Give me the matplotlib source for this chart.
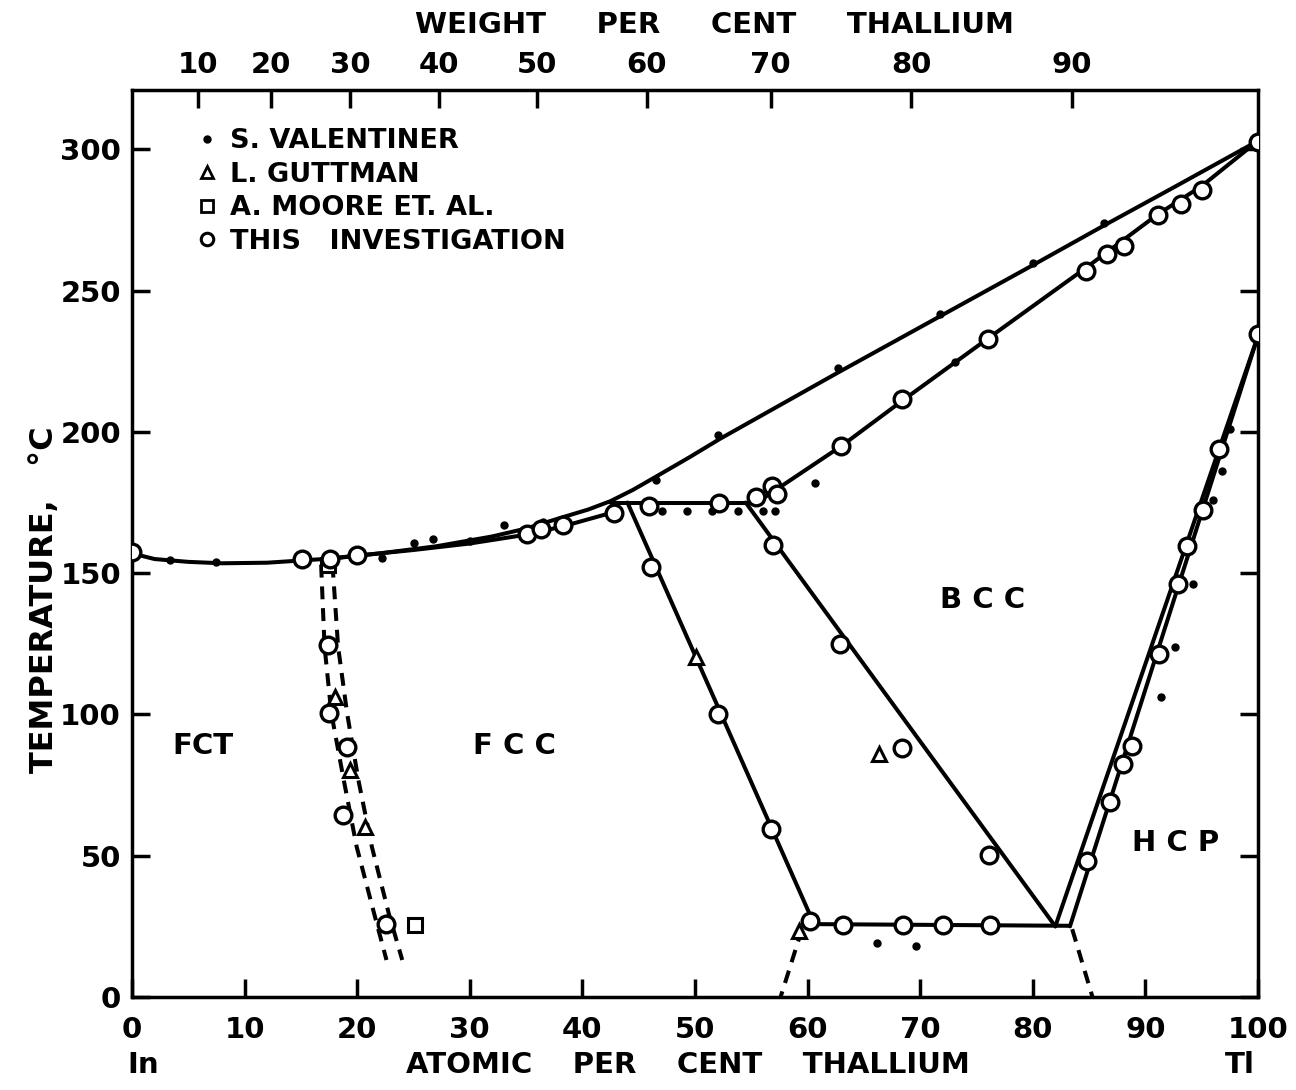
import numpy as np
import matplotlib
matplotlib.use("Agg")
import matplotlib.pyplot as plt
from matplotlib.lines import Line2D

plt.rcParams['font.family'] = ['DejaVu Sans']
plt.rcParams['font.weight'] = 'bold'

# atomic masses, for the weight-percent scale on top
M_IN = 114.82
M_TL = 204.38

# ---- phase boundaries (atomic % Tl, temperature C) ----
liq_x = [0, 2, 5, 8, 12, 17, 22, 27, 32, 35, 38, 40.5, 42.5, 44.5, 46.9, 49.5, 52.2, 62.7, 71.8, 80, 86.3, 92.5, 100]
liq_t = [157, 155, 154, 153.5, 153.7, 155, 157, 159.5, 163, 165.8, 169.5, 172.5, 175.5, 179.5, 185, 191, 197.5, 221, 241, 259, 273, 286.5, 303]

fcc_sol_x = [17.5, 20, 25, 30, 35, 38.3, 42.7]
fcc_sol_t = [155, 156.2, 158.2, 160.5, 163.6, 166.6, 171.5]

perit_x = [42.5, 55.5]
perit_t = [175, 175]

bcc_sol_x = [55.5, 63, 68.4, 76, 84.7, 91.1, 95, 100]
bcc_sol_t = [175, 195, 211, 233, 258, 277, 287, 303]

fcc_bnd_x = [44, 60.5]
fcc_bnd_t = [175, 26.5]

bcc_bnd_x = [54.5, 82]
bcc_bnd_t = [175, 25]

eutd_x = [60.3, 83.3]
eutd_t = [25.8, 25.2]

hcp_out_x = [82, 100]
hcp_out_t = [25, 234]
hcp_in_x = [83.3, 100]
hcp_in_t = [25, 234]

dash_lo1_x = [59.5, 57.6]
dash_lo1_t = [24, 0]
dash_lo2_x = [83.5, 85.3]
dash_lo2_t = [24, 0]

fct_l_x = [16.8, 16.85, 17.1, 17.7, 18.8, 19.95, 21.5, 22.6]
fct_l_t = [153, 147.7, 124.1, 100.5, 76.9, 53.2, 29.6, 13.1]
fct_r_x = [17.8, 17.9, 18.3, 19.1, 20.1, 21.3, 22.8, 24.0]
fct_r_t = [153, 147.7, 124.1, 100.5, 76.9, 53.2, 29.6, 13.1]

# ---- measured points ----
val_x = [3.4, 7.5, 22.2, 25, 26.7, 30, 33, 36.5, 46.5, 52, 62.7, 71.8, 80, 86.3,
         47.1, 49.3, 51.5, 53.8, 56, 57.1, 60.7, 73.1,
         97.5, 96.8, 96, 94.2, 92.6, 91.4, 66.2, 69.6]
val_t = [154.8, 154, 155.5, 160.8, 162, 161.5, 167, 168, 183, 199, 222.5, 241.6, 259.7, 274,
         172, 172, 172, 172, 172, 172, 182, 224.6,
         201, 186, 176, 146, 124, 106, 19, 18]

gut_x = [18, 19.4, 20.7, 22.6, 50.1, 59.2, 66.3]
gut_t = [106, 80.4, 60, 26, 120.4, 23.4, 86]

moore_x = [17.4, 25.1]
moore_t = [153, 25.5]

inv_x = [0, 15.1, 17.6, 20, 35.1, 36.3, 38.3, 42.8,
         45.9, 52.1, 55.4, 56.8, 57.3, 63, 68.4, 76, 84.7, 86.6, 88.1, 91.1, 93.2, 95, 100,
         17.4, 17.5, 19.1, 18.7, 22.6,
         46.1, 52, 56.75, 60.2, 63.1, 68.5, 72, 76.2,
         56.9, 62.9, 68.4, 76.1,
         100, 96.5, 95.1, 93.7, 92.9, 91.2, 88.8, 88, 86.9, 84.8]
inv_t = [157.6, 155, 155, 156.5, 164, 165.8, 167.2, 171.4,
         173.9, 175, 176.8, 181, 178, 195, 211.5, 232.7, 257, 262.8, 265.7, 276.7, 280.5, 285.5, 302.5,
         124.7, 100.6, 88.6, 64.5, 26,
         152.3, 100.2, 59.5, 27, 25.5, 25.5, 25.5, 25.5,
         159.8, 124.9, 88.1, 50.3,
         234.8, 194, 172.5, 159.5, 146, 121.5, 89, 82.6, 69, 48.2]

wt_ticks = [10, 20, 30, 40, 50, 60, 70, 80, 90]
at_ticks = [0, 10, 20, 30, 40, 50, 60, 70, 80, 90, 100]
t_ticks = [0, 50, 100, 150, 200, 250, 300]

regions = {"FCT": (6.3, 89), "F C C": (34, 89), "B C C": (75.5, 140.5), "H C P": (92.7, 54.5)}


def at2wt(a):
    a = np.clip(np.asarray(a, dtype=float), 1e-9, 100 - 1e-9)
    return 100 * a * M_TL / (a * M_TL + (100 - a) * M_IN)


def wt2at(w):
    w = np.clip(np.asarray(w, dtype=float), 1e-9, 100 - 1e-9)
    return 100 * (w / M_TL) / (w / M_TL + (100 - w) / M_IN)


fig = plt.figure(figsize=(12.96, 10.9), dpi=100)
ax = fig.add_axes([132 / 1296, 1 - 997 / 1090, 1126 / 1296, 907 / 1090])

lw = 2.9
solid = dict(color='black', lw=lw, solid_capstyle='round', zorder=2)
dashed = dict(color='black', lw=lw, ls=(0, (3.2, 2.2)), zorder=2)

ax.plot(liq_x, liq_t, **solid)
ax.plot(fcc_sol_x, fcc_sol_t, **solid)
ax.plot(perit_x, perit_t, **solid)
ax.plot(bcc_sol_x, bcc_sol_t, **solid)
ax.plot(fcc_bnd_x, fcc_bnd_t, **solid)
ax.plot(bcc_bnd_x, bcc_bnd_t, **solid)
ax.plot(eutd_x, eutd_t, **solid)
ax.plot(hcp_out_x, hcp_out_t, **solid)
ax.plot(hcp_in_x, hcp_in_t, **solid)
ax.plot(dash_lo1_x, dash_lo1_t, **dashed)
ax.plot(dash_lo2_x, dash_lo2_t, **dashed)
ax.plot(fct_l_x, fct_l_t, **dashed)
ax.plot(fct_r_x, fct_r_t, **dashed)

mk = dict(ls='none', color='black', markerfacecolor='white', zorder=4)
ax.plot(val_x, val_t, 'o', ms=5, color='black', ls='none', zorder=3)
ax.plot(gut_x, gut_t, '^', ms=10, mew=2.2, **mk)
ax.plot(moore_x, moore_t, 's', ms=10, mew=2.2, **mk)
ax.plot(inv_x, inv_t, 'o', ms=12, mew=2.4, **mk)

for name, (x, t) in regions.items():
    ax.text(x, t, name, fontsize=21, ha='center', va='center')

ax.set_xlim(0, 100)
ax.set_ylim(0, 321)
ax.set_xticks(at_ticks)
ax.set_yticks(t_ticks)
ax.tick_params(direction='in', length=13, width=2.5, labelsize=21, pad=8,
               top=False, right=True)
ax.tick_params(axis='x', pad=14)
for s in ax.spines.values():
    s.set_linewidth(2.5)

top = ax.secondary_xaxis('top', functions=(at2wt, wt2at))
top.set_xticks(wt_ticks)
top.tick_params(direction='in', length=13, width=2.5, labelsize=21, pad=8)

handles = [
    Line2D([], [], marker='o', ls='none', color='black', ms=5),
    Line2D([], [], marker='^', ls='none', color='black', mfc='white', ms=8, mew=2),
    Line2D([], [], marker='s', ls='none', color='black', mfc='white', ms=8, mew=2),
    Line2D([], [], marker='o', ls='none', color='black', mfc='white', ms=9, mew=2.2),
]
labels = ["S. VALENTINER", "L. GUTTMAN", "A. MOORE ET. AL.", "THIS   INVESTIGATION"]
ax.legend(handles, labels, loc='upper left', bbox_to_anchor=(0.035, 0.985), frameon=False,
          fontsize=19.5, handlelength=0.8, handletextpad=0.45, labelspacing=0.28)

fig.text(715 / 1296, 1 - 25 / 1090, "WEIGHT     PER     CENT     THALLIUM",
         fontsize=21, ha='center', va='center')
fig.text(688 / 1296, 1 - 1065 / 1090, "ATOMIC    PER    CENT    THALLIUM",
         fontsize=21, ha='center', va='center')
fig.text(143 / 1296, 1 - 1065 / 1090, "In", fontsize=21, ha='center', va='center')
fig.text(1240 / 1296, 1 - 1065 / 1090, "Tl", fontsize=21, ha='center', va='center')
fig.text(45 / 1296, 1 - 600 / 1090, "TEMPERATURE,   °C", fontsize=23, rotation=90,
         ha='center', va='center')

fig.savefig("out.png", dpi=100)
